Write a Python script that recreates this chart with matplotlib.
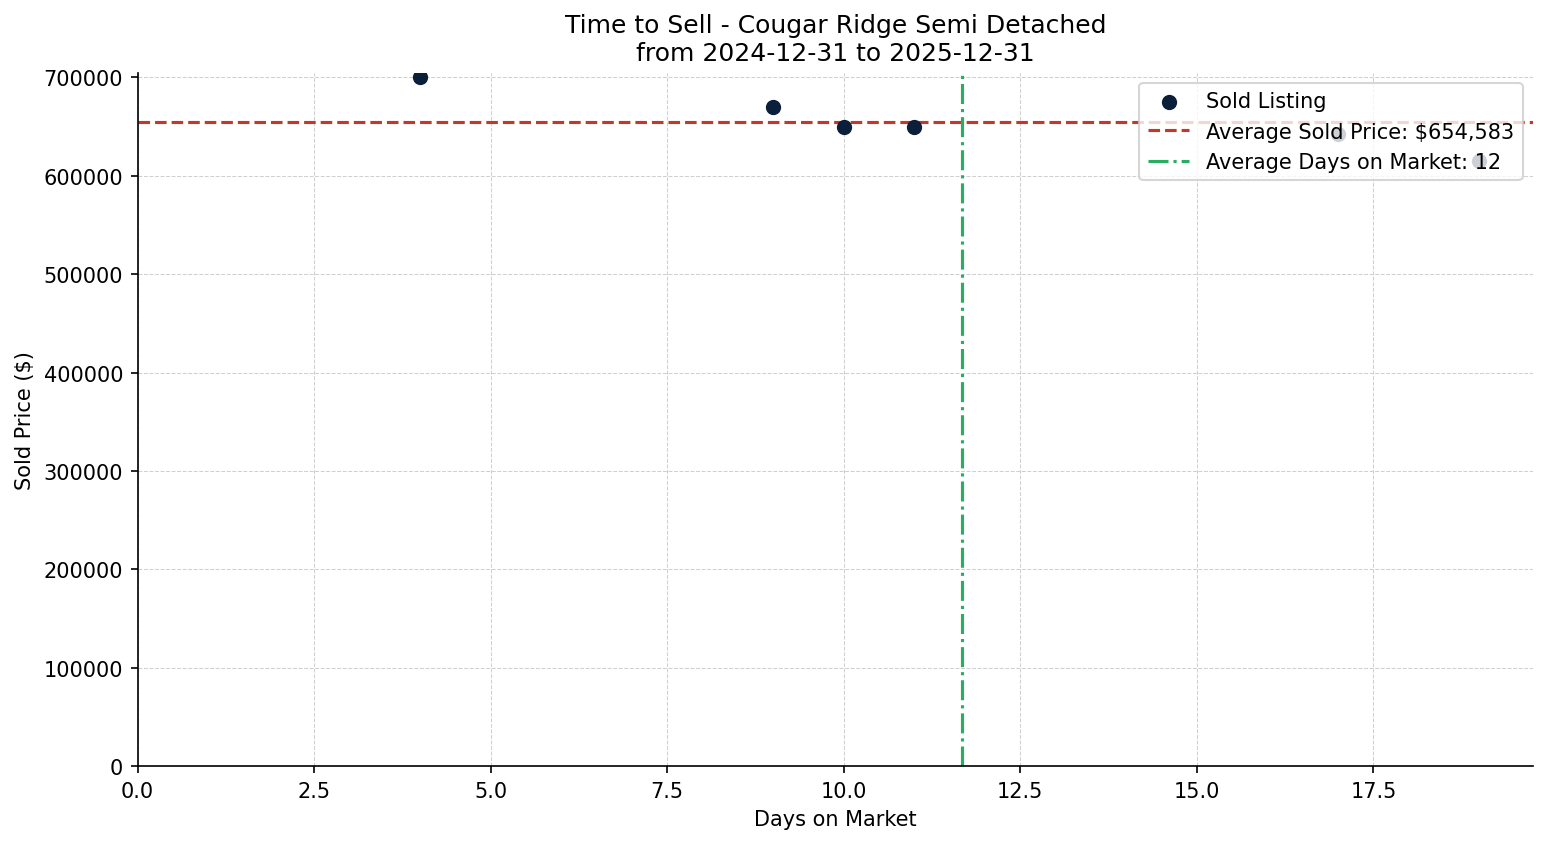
import matplotlib
matplotlib.use("Agg")
import matplotlib.pyplot as plt
import numpy as np

days = [4, 9, 10, 11, 17, 19]
prices = [700000, 670000, 650000, 650000, 642500, 615000]

avg_price = np.mean(prices)
avg_days = np.mean(days)

fig, ax = plt.subplots(figsize=(10.313, 5.633), dpi=150)
ax.scatter(days, prices, color="#0b1f3a", s=40, zorder=3, label="Sold Listing")
ax.axhline(avg_price, color="#c0392b", linestyle="--", linewidth=1.5,
           label=f"Average Sold Price: ${avg_price:,.0f}")
ax.axvline(avg_days, color="#27ae60", linestyle="-.", linewidth=1.5,
           label=f"Average Days on Market: {avg_days:.0f}")
ax.set_xlim(0, 19.76)
ax.set_ylim(0, 705000)
ax.grid(True, linestyle="--", linewidth=0.5, color="#d0d0d0")
ax.spines["top"].set_visible(False)
ax.spines["right"].set_visible(False)
ax.set_xlabel("Days on Market")
ax.set_ylabel("Sold Price ($)")
ax.set_title("Time to Sell - Cougar Ridge Semi Detached\nfrom 2024-12-31 to 2025-12-31")
ax.legend(loc="upper right")
fig.subplots_adjust(left=0.089, right=0.991, top=0.913, bottom=0.092)
fig.savefig("out.png")
